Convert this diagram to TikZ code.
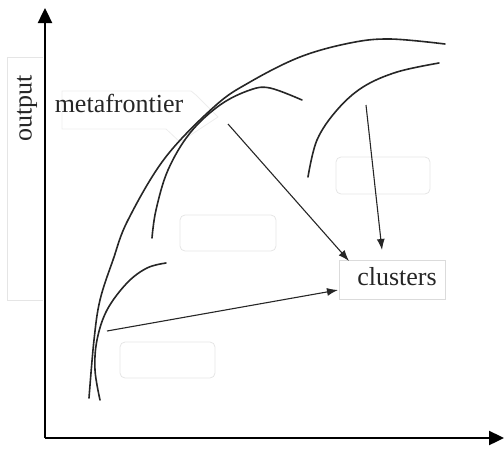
\documentclass[tikz,border=0pt]{standalone}
\usepackage{fontspec}
\setmainfont{Liberation Serif}
\usetikzlibrary{arrows.meta}
\begin{document}
\begin{tikzpicture}[x=1pt,y=-1pt,
  faint/.style={draw=black!10,line width=0.8pt},
  ghost/.style={faint,rounded corners=5pt},
  frontier/.style={line width=1.6pt,black!85,line cap=round},
  axis/.style={line width=2.4pt,-{Triangle[length=15pt,width=14pt]}},
  link/.style={line width=1.1pt,black!85,-{Latex[length=11pt,width=8pt]}},
  lbl/.style={font=\fontsize{26}{30}\selectfont,text=black!85,inner sep=0pt}]
\useasboundingbox (0,0) rectangle (504,448);
% faint boxes
\draw[faint] (43,57) -- (7,57) -- (7,300) -- (43,300);
\draw[faint,draw=black!7] (62,91) -- (191,91) -- (196,95) -- (218,117) -- (180,142) -- (166,129) -- (62,129) -- cycle;
\draw[ghost] (180,215) rectangle (276,251);
\draw[ghost] (336,157) rectangle (430,194);
\draw[ghost] (120,342) rectangle (215,378);
% axes
\coordinate (O) at (45,438);
\coordinate (Ytip) at (45,8);
\coordinate (Xtip) at (504,438);
\draw[axis] (O) -- (Ytip);
\draw[axis] (O) -- (Xtip);
% frontiers
\draw[frontier] plot[smooth,tension=0.6] coordinates {(89,398) (94,340) (100,300) (113,260) (128,220) (165,158) (215,106) (250,82) (300,57) (350,43) (390,39) (445,44)};
\draw[frontier] plot[smooth,tension=0.6] coordinates {(152,238) (156,210) (168,170) (190,133) (220,105) (250,90) (270,88) (302,100)};
\draw[frontier] plot[smooth,tension=0.6] coordinates {(308,177) (317,140) (337,110) (363,87) (397,72) (439,63)};
\draw[frontier] plot[smooth,tension=0.6] coordinates {(100,400) (95,370) (97,340) (107,310) (127,283) (147,268) (166,263)};
% labels
\node[lbl,rotate=90] (out) at (27,108) {output};
\node[lbl,anchor=base] (meta) at (119,112) {metafrontier};
\node[faint,draw=black!14,minimum width=106pt,minimum height=39pt,inner sep=0pt] (clu) at (392,280) {};
\node[lbl,anchor=base] (clutext) at (397,285) {clusters};
% connectors
\coordinate (a0) at (228,124);
\coordinate (a1) at (349,261);
\coordinate (b0) at (366,105);
\coordinate (b1) at (382,250);
\coordinate (c0) at (107,331);
\coordinate (c1) at (338,290);
\draw[link] (a0) -- (a1);
\draw[link] (b0) -- (b1);
\draw[link] (c0) -- (c1);
\end{tikzpicture}
\end{document}
